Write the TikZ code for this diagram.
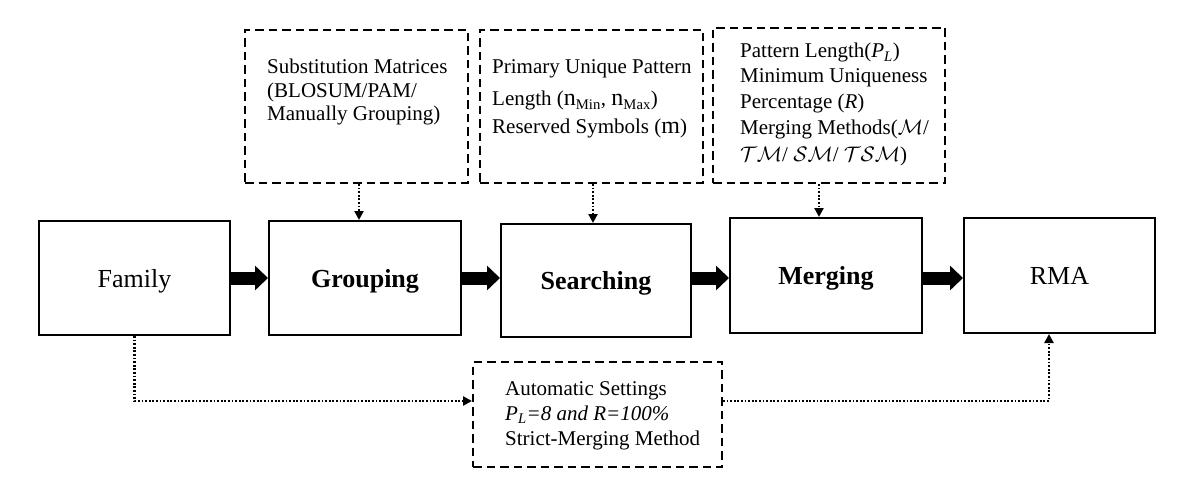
\documentclass[tikz,border=0pt]{standalone}
\usepackage{fix-cm}
\usepackage{fontspec}
\setmainfont{Liberation Serif}
\usetikzlibrary{arrows.meta,calc}
\begin{document}
\begin{tikzpicture}[x=1pt,y=-1pt,
  mbox/.style={draw,line width=2pt,inner sep=0pt,text height=24pt,text depth=6pt,font=\fontsize{26}{30}\selectfont},
  dbox/.style={draw,line width=2pt,dash pattern=on 8.5pt off 5pt,inner sep=0pt},
  txt/.style={anchor=base west,inner sep=0pt,font=\fontsize{21}{24}\selectfont},
  fat/.style={line width=13pt,-{Triangle[width=24pt,length=13pt]}},
  dotarr/.style={line width=2.4pt,dash pattern=on 1.8pt off 1.8pt,-{Triangle[width=9pt,length=9pt]}}]
\useasboundingbox (0,0) rectangle (1200,484);

% main boxes
\node[mbox,minimum width=191pt,minimum height=114pt] (fam) at (134.5,278) {Family};
\node[mbox,minimum width=192pt,minimum height=114pt] (grp) at (365,278) {\textbf{Grouping}};
\node[mbox,minimum width=190pt,minimum height=113pt] (srch) at (596,280.5) {\textbf{Searching}};
\node[mbox,minimum width=192pt,minimum height=115pt] (mrg) at (826,275.5) {\textbf{Merging}};
\node[mbox,minimum width=191pt,minimum height=115pt] (rma) at (1059.5,275.5) {RMA};

% dashed boxes
\node[dbox,minimum width=223pt,minimum height=153pt] (b1) at (356.5,106.5) {};
\node[dbox,minimum width=223pt,minimum height=153pt] (b2) at (591.5,106.5) {};
\node[dbox,minimum width=232pt,minimum height=155pt] (b3) at (829,105.5) {};
\node[dbox,minimum width=249pt,minimum height=105pt] (b4) at (597.5,414.5) {};

% texts of dashed boxes
\node[txt] (t11) at (267,74) {Substitution Matrices};
\node[txt] (t12) at (267,98) {(BLOSUM/PAM/};
\node[txt] (t13) at (267,121) {Manually Grouping)};

\node[txt] (t21) at (492,74) {Primary Unique Pattern};
\node[txt] (t22) at (492,106) {Length ({\fontsize{24}{24}\selectfont n}\textsubscript{Min}, {\fontsize{24}{24}\selectfont n}\textsubscript{Max})};
\node[txt] (t23) at (492,134) {Reserved Symbols ({\fontsize{24}{24}\selectfont m})};

\node[txt] (t31) at (740,58) {Pattern Length(\textit{P}\textsubscript{\textit{L}})};
\node[txt] (t32) at (740,83) {Minimum Uniqueness};
\node[txt] (t33) at (740,109) {Percentage (\textit{R})};
\node[txt] (t34) at (740,135) {Merging Methods($\mathcal{M}$/};
\node[txt] (t35) at (740,162) {$\mathcal{TM}$/ $\mathcal{SM}$/ $\mathcal{TSM}$)};

\node[txt] (t41) at (505,395) {Automatic Settings};
\node[txt] (t42) at (505,420) {\textit{P}\textsubscript{\textit{L}}\textit{=8 and R=100\%}};
\node[txt] (t43) at (505,445) {Strict-Merging Method};

% fat arrows
\draw[fat] (fam.east) -- (grp.west);
\draw[fat] (grp.east) -- (grp.east -| srch.west);
\draw[fat] ([yshift=2.5pt]srch.east) -- ([yshift=2.5pt]srch.east -| mrg.west);
\draw[fat] ([yshift=-2.5pt]mrg.east) -- ([yshift=-2.5pt]mrg.east -| rma.west);

% dotted arrows
\draw[dotarr] ([xshift=2.5pt]b1.south) -- ([xshift=2.5pt]b1.south |- grp.north);
\draw[dotarr] ([xshift=1.5pt]b2.south) -- ([xshift=1.5pt]b2.south |- srch.north);
\draw[dotarr] ([xshift=-10pt]b3.south) -- ([xshift=-10pt]b3.south |- mrg.north);
\draw[dotarr] (fam.south) |- ([yshift=13.5pt]b4.west);
\draw[dotarr] ([yshift=13.5pt]b4.east) -| ([xshift=-10.5pt]rma.south);
\end{tikzpicture}
\end{document}
